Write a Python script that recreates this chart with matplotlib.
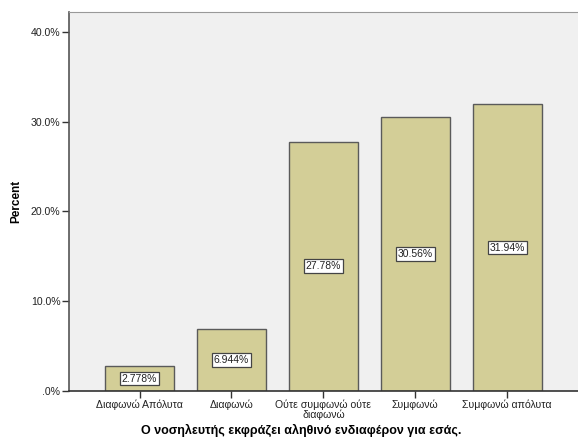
import matplotlib
matplotlib.use("Agg")
import matplotlib.pyplot as plt

# Δεδομένα
categories = ["Διαφωνώ Απόλυτα", "Διαφωνώ", "Ούτε συμφωνώ ούτε\nδιαφωνώ", "Συμφωνώ", "Συμφωνώ απόλυτα"]
percents = [2.778, 6.944, 27.78, 30.56, 31.94]
value_labels = ["2.778%", "6.944%", "27.78%", "30.56%", "31.94%"]
yticks = [0, 10, 20, 30, 40]
ytick_labels = [".0%", "10.0%", "20.0%", "30.0%", "40.0%"]

plt.rcParams['font.family'] = ['Liberation Sans', 'DejaVu Sans']

fig = plt.figure(figsize=(5.78, 4.41), dpi=100)
ax = fig.add_axes([0.119, 0.1134, 0.881, 0.8594])
ax.set_facecolor('#f0f0f0')

x = range(len(categories))
ax.bar(x, percents, width=0.75, color='#d3ce97', edgecolor='#5a5a5a', linewidth=1.0)

# Etiquetas de valores en el centro de cada barra
for i, (v, lab) in enumerate(zip(percents, value_labels)):
    ax.text(i, v / 2, lab, ha='center', va='center', fontsize=7.5, color='#222222',
            bbox=dict(boxstyle='square,pad=0.18', facecolor='white', edgecolor='#444444', linewidth=0.9))

ax.set_xlim(-0.77, 4.77)
ax.set_ylim(0, 42.2)
ax.set_xticks(list(x))
ax.set_xticklabels(categories, fontsize=7.6, linespacing=1.0)
ax.set_yticks(yticks)
ax.set_yticklabels(ytick_labels, fontsize=7.6)
ax.tick_params(axis='both', length=5, width=1, color='#333333', labelcolor='#222222', pad=1)

ax.spines['right'].set_visible(False)
ax.spines['top'].set_color('#999999')
ax.spines['left'].set_color('#555555')
ax.spines['bottom'].set_color('#333333')
ax.spines['left'].set_linewidth(1.2)
ax.spines['bottom'].set_linewidth(1.2)

ax.set_ylabel("Percent", fontsize=8.5, fontweight='bold')
ax.yaxis.set_label_coords(-0.092, 0.5)
ax.set_xlabel("Ο νοσηλευτής εκφράζει αληθινό ενδιαφέρον για εσάς.", fontsize=9, fontweight='bold')
ax.xaxis.set_label_coords(0.456, -0.086)

fig.savefig('out.png', dpi=100)
